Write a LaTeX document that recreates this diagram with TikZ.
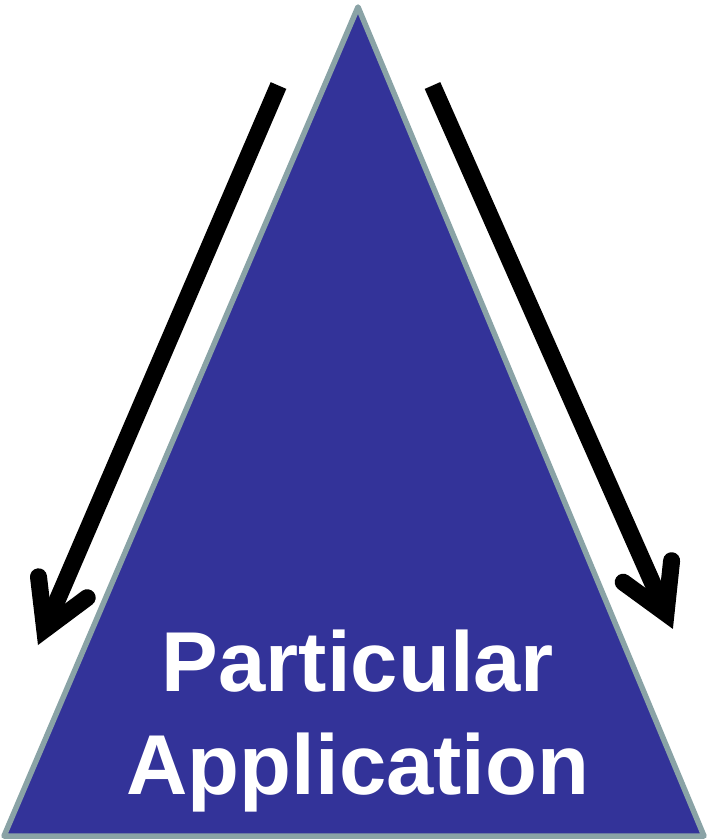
\documentclass[tikz,border=0pt]{standalone}
\usepackage{fontspec}
\setmainfont{Liberation Sans}
\definecolor{trifill}{RGB}{51,51,153}
\definecolor{triedge}{RGB}{138,163,166}
\begin{document}
\begin{tikzpicture}[x=1pt,y=-1pt,
  tri/.style={fill=trifill,draw=triedge,line width=5.5pt,line join=round},
  shaft/.style={draw=black,line width=17pt,line cap=butt},
  chevron/.style={draw=black,line width=17pt,line cap=round,line join=miter},
  label/.style={text=white,font=\fontsize{85}{103}\selectfont\bfseries,anchor=base,inner sep=0pt}]
\useasboundingbox (0,0) rectangle (707,839);
% triangle
\coordinate (apex) at (358,7);
\coordinate (bl) at (4,836);
\coordinate (br) at (704,836);
\draw[tri] (apex) -- (br) -- (bl) -- cycle;
% left arrow
\coordinate (ltop) at (278.5,85.5);
\coordinate (lvert) at (44.7,629.4);
\coordinate (lb1) at (38.5,576.8);
\coordinate (lb2) at (87.2,597.7);
\draw[shaft] (ltop) -- (lvert);
\draw[chevron] (lb1) -- (lvert) -- (lb2);
% right arrow
\coordinate (rtop) at (432.5,85.5);
\coordinate (rvert) at (666,613.4);
\coordinate (rb1) at (671.6,560.7);
\coordinate (rb2) at (623.2,582.2);
\draw[shaft] (rtop) -- (rvert);
\draw[chevron] (rb1) -- (rvert) -- (rb2);
% text
\node[label] (t1) at (358,691) {Particular};
\node[label] (t2) at (358,794) {Application};
\end{tikzpicture}
\end{document}
